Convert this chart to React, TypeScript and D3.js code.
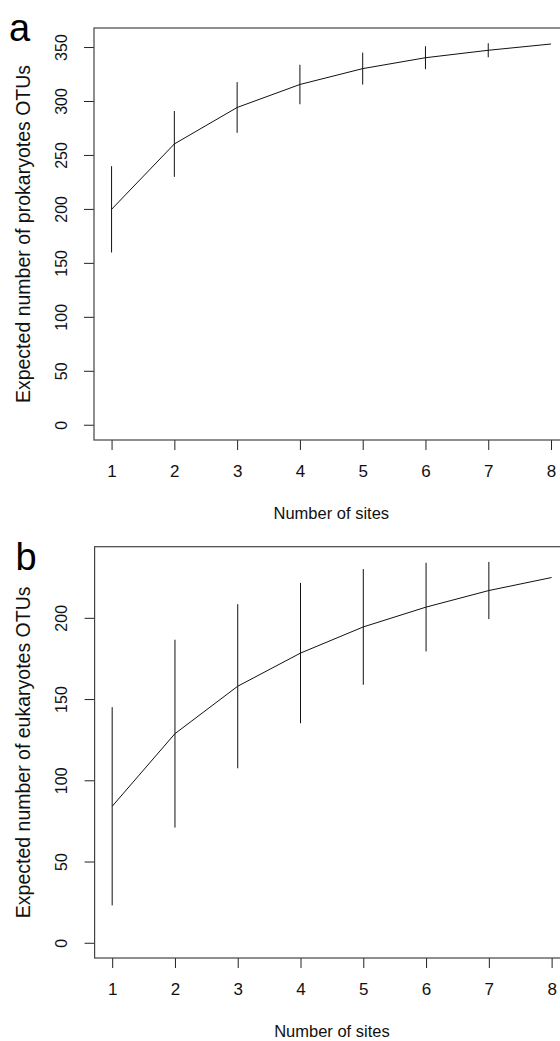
import { useEffect, useRef } from "react";
import * as d3 from "d3";

// rarefaction: expected OTUs by number of sites (mean and sd)
const sites = [1, 2, 3, 4, 5, 6, 7, 8];
const prokMean = [199.6, 260.2, 294, 315.3, 330, 340.1, 347, 352.8];
const prokSd = [40, 30.5, 23.5, 18.3, 14.8, 10.6, 6.5, 0];
const eukMean = [84, 128.7, 157.9, 178.3, 194.4, 206.6, 216.8, 224.8];
const eukSd = [61, 57.8, 50.5, 43.2, 35.6, 27.3, 17.6, 0];
const prokTicks = [0, 50, 100, 150, 200, 250, 300, 350];
const eukTicks = [0, 50, 100, 150, 200];

const W = 560;
const H = 1041;
const FONT = '"Liberation Sans", Arial, sans-serif';

const panels = [
  {
    tag: "a",
    mean: prokMean,
    sd: prokSd,
    ticks: prokTicks,
    title: "Expected number of prokaryotes OTUs",
    left: 94, right: 568.6, top: 28, bottom: 440,
    tagX: 9, tagY: 41
  },
  {
    tag: "b",
    mean: eukMean,
    sd: eukSd,
    ticks: eukTicks,
    title: "Expected number of eukaryotes OTUs",
    left: 94.6, right: 569.2, top: 546.7, bottom: 958,
    tagX: 15.5, tagY: 569.5
  }
];

function drawPanel(svg: any, p: any) {
  const upper = p.mean.map((m: number, i: number) => m + p.sd[i]);
  const yMax = d3.max(upper) as number;
  const [xMin, xMax] = d3.extent(sites) as [number, number];
  const px = (xMax - xMin) * 0.04;
  const py = yMax * 0.04;

  const x = d3.scaleLinear().domain([xMin - px, xMax + px]).range([p.left, p.right]);
  const y = d3.scaleLinear().domain([-py, yMax + py]).range([p.bottom, p.top]);

  const g = svg.append("g");

  // y axis
  const ya = g.append("g")
    .attr("transform", `translate(${p.left},0)`)
    .call(d3.axisLeft(y).tickValues(p.ticks).tickSize(10).tickFormat(d3.format("d")));
  ya.select(".domain").remove();
  ya.selectAll("line").attr("stroke", "#222");
  ya.selectAll("text")
    .attr("x", 0)
    .attr("y", -27.5)
    .attr("dy", 0)
    .attr("transform", "rotate(-90)")
    .attr("text-anchor", "middle")
    .attr("font-family", FONT)
    .attr("font-size", 16)
    .attr("fill", "#111");

  // x axis
  const xa = g.append("g")
    .attr("transform", `translate(0,${p.bottom})`)
    .call(d3.axisBottom(x).tickValues(sites).tickSize(10).tickFormat(d3.format("d")));
  xa.select(".domain").remove();
  xa.selectAll("line").attr("stroke", "#222");
  xa.selectAll("text")
    .attr("y", 37)
    .attr("dy", 0)
    .attr("font-family", FONT)
    .attr("font-size", 17)
    .attr("fill", "#111");

  // frame
  g.append("rect")
    .attr("x", p.left)
    .attr("y", p.top)
    .attr("width", p.right - p.left)
    .attr("height", p.bottom - p.top)
    .attr("fill", "none")
    .attr("stroke", "#444")
    .attr("stroke-width", 1.2);

  // curve
  const line = d3.line<number>()
    .x((d, i) => x(sites[i]))
    .y(d => y(d));
  g.append("path")
    .datum(p.mean)
    .attr("d", line)
    .attr("fill", "none")
    .attr("stroke", "#111")
    .attr("stroke-width", 1);

  // error bars
  g.selectAll("line.err")
    .data(sites.filter((s, i) => p.sd[i] > 0))
    .join("line")
    .attr("class", "err")
    .attr("x1", (s: number) => x(s))
    .attr("x2", (s: number) => x(s))
    .attr("y1", (s: number) => y(p.mean[s - 1] - p.sd[s - 1]))
    .attr("y2", (s: number) => y(p.mean[s - 1] + p.sd[s - 1]))
    .attr("stroke", "#111")
    .attr("stroke-width", 1);

  // axis titles
  g.append("text")
    .attr("x", (p.left + p.right) / 2)
    .attr("y", p.bottom + 79)
    .attr("text-anchor", "middle")
    .attr("font-family", FONT)
    .attr("font-size", 16.5)
    .attr("fill", "#111")
    .text("Number of sites");

  g.append("text")
    .attr("transform", `translate(30,${(p.top + p.bottom) / 2}) rotate(-90)`)
    .attr("text-anchor", "middle")
    .attr("font-family", FONT)
    .attr("font-size", 19.5)
    .attr("fill", "#111")
    .text(p.title);

  // panel letter
  g.append("text")
    .attr("x", p.tagX)
    .attr("y", p.tagY)
    .attr("font-family", FONT)
    .attr("font-size", 38)
    .attr("fill", "#000")
    .text(p.tag);
}

const App = () => {
  const svgRef = useRef<SVGSVGElement>(null);

  useEffect(() => {
    const svg = d3.select(svgRef.current);
    svg.selectAll("*").remove();
    svg.append("rect").attr("width", W).attr("height", H).attr("fill", "#fff");
    panels.forEach(p => drawPanel(svg, p));
  }, []);

  return (
    <div style={{ position: "absolute", left: 0, top: 0 }}>
      <svg ref={svgRef} width={W} height={H} style={{ display: "block", overflow: "hidden" }}></svg>
    </div>
  );
};

export default App;
